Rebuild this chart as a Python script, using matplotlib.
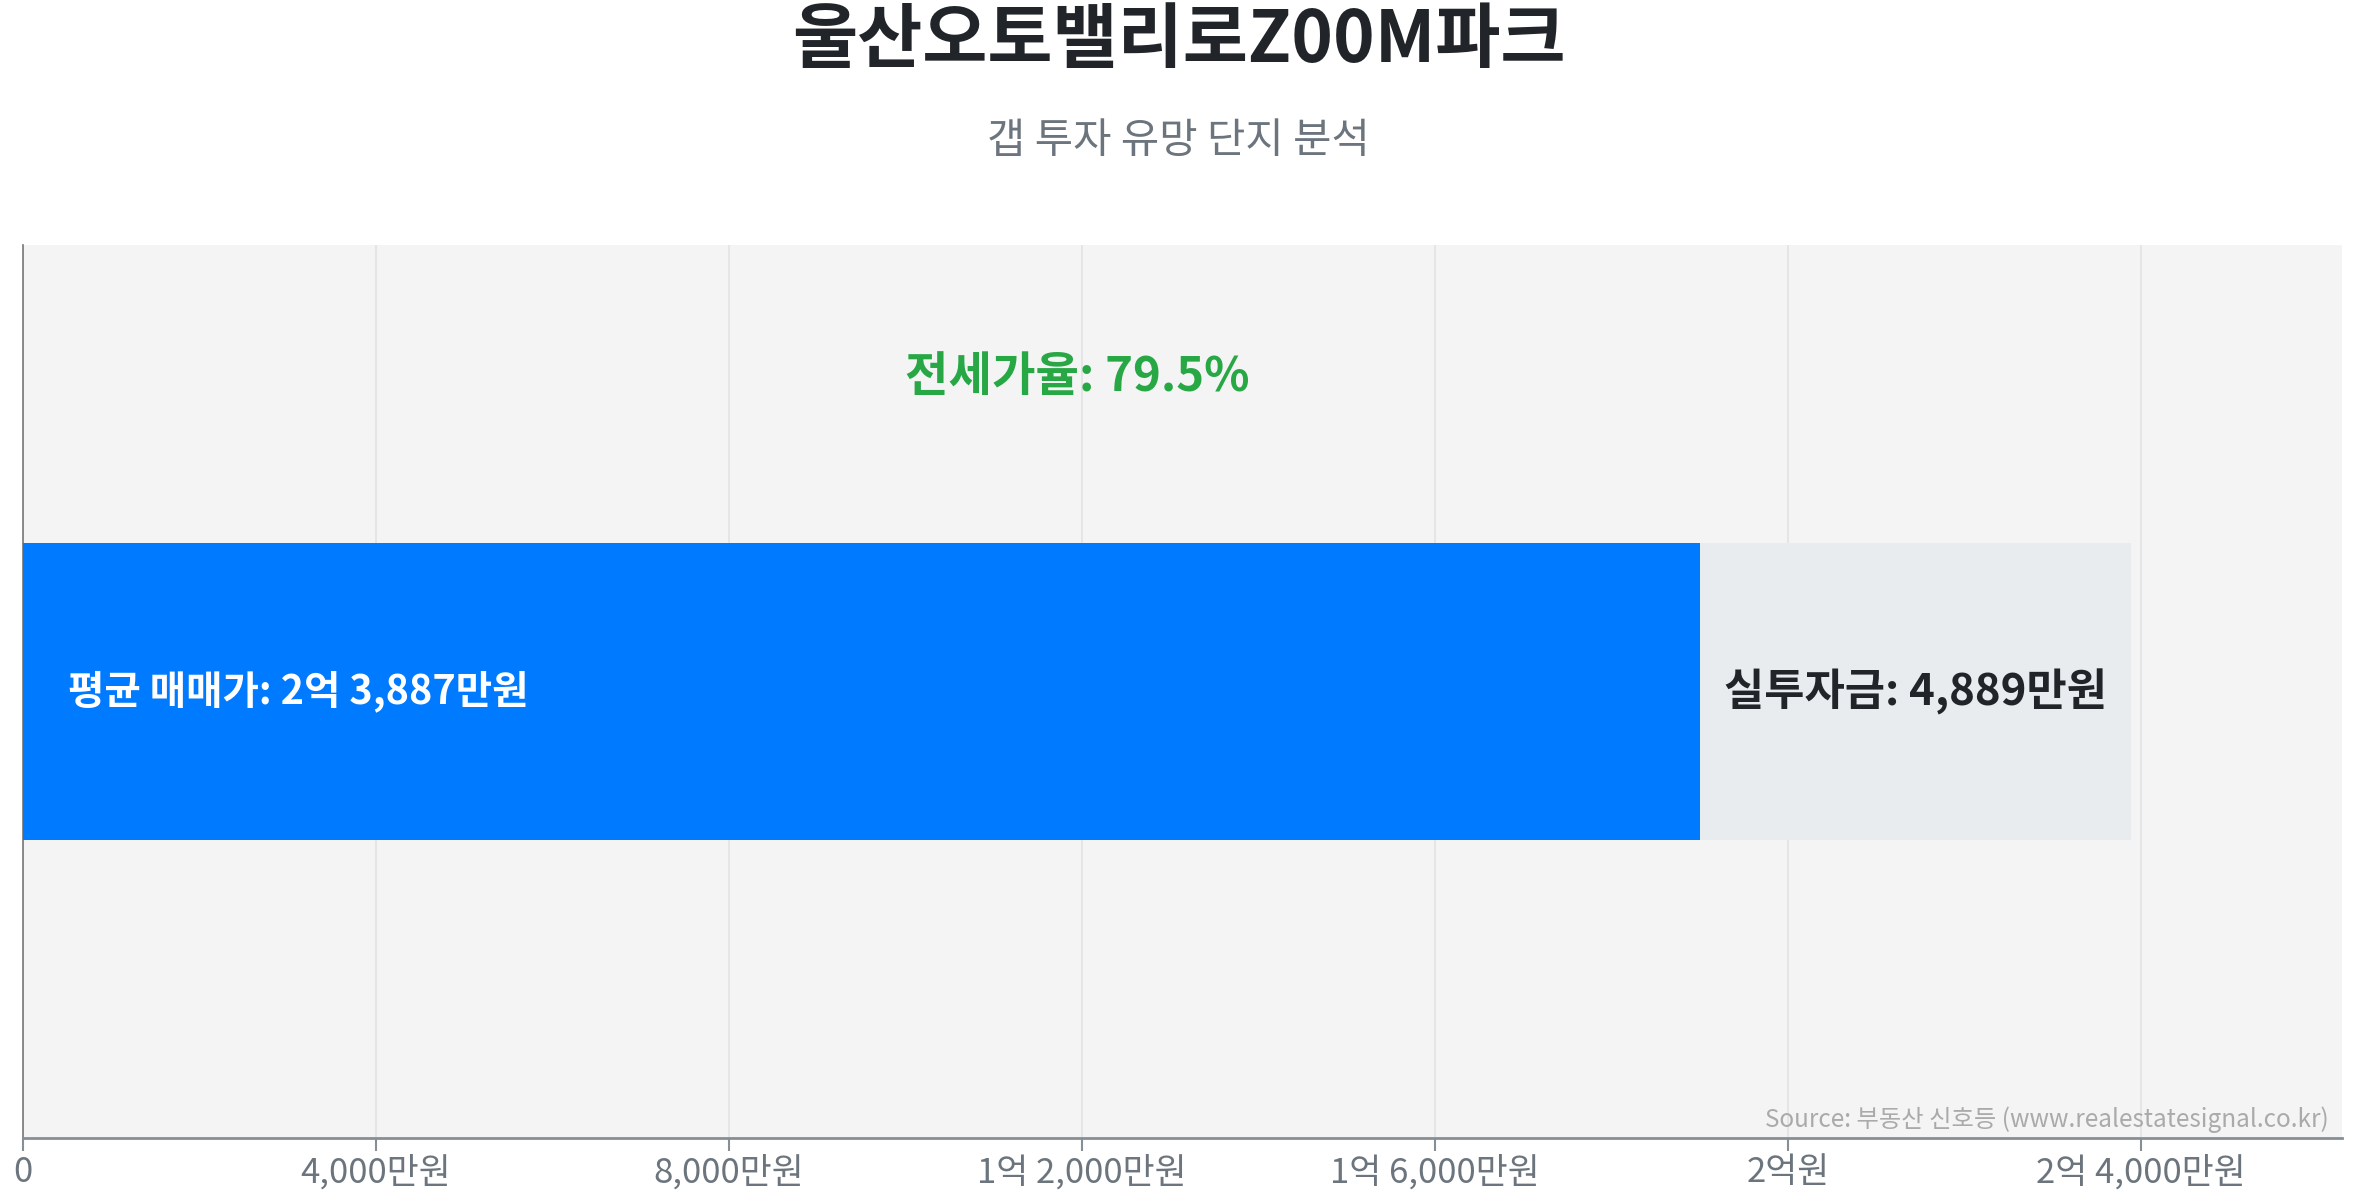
import numpy as np
import matplotlib.pyplot as plt
from matplotlib.ticker import FuncFormatter

plt.rcParams['font.family'] = ['Noto Sans CJK KR', 'DejaVu Sans']

# data (만원)
title = "울산오토밸리로Z00M파크"
subtitle = "갭 투자 유망 단지 분석"
avg_price = 23887
jeonse = 18998
gap = 4889
jeonse_rate = 79.5
ticks = [0, 4000, 8000, 12000, 16000, 20000, 24000]

def won(v, pos=None):
  v = int(round(v))
  if v == 0:
    return "0"
  eok, man = divmod(v, 10000)
  if eok and man:
    return f"{eok}억 {man:,}만원"
  if eok:
    return f"{eok}억원"
  return f"{man:,}만원"

fig = plt.figure(figsize=(23.57, 12), dpi=100)
ax = fig.add_axes([23/2357, 1-1138/1200, (2342-23)/2357, (1138-245)/1200])
ax.set_facecolor('#f4f4f4')

ax.barh([0], [jeonse], height=1, color='#007bff', zorder=3)
ax.barh([0], [gap], left=[jeonse], height=1, color='#e9ecef', zorder=3)

ax.set_xlim(0, avg_price*1.1)
ax.set_ylim(-1.5, 1.5)
ax.set_yticks([])
ax.set_xticks(ticks)
ax.xaxis.set_major_formatter(FuncFormatter(won))
ax.tick_params(axis='x', colors='#868e96', labelcolor='#6c757d', labelsize=25, length=9, width=1.5, pad=3)
ax.grid(axis='x', color='#e2e2e2', linewidth=1.2, zorder=0)

for s in ['top', 'right']:
  ax.spines[s].set_visible(False)
ax.spines['left'].set_color('#777777')
ax.spines['left'].set_linewidth(1.2)
ax.spines['bottom'].set_color('#868e96')
ax.spines['bottom'].set_linewidth(2)

ax.text(avg_price/2, 1.055, f"전세가율: {jeonse_rate}%", color='#28a745', fontsize=34,
        fontweight='bold', ha='center', va='center', zorder=4)
ax.text(avg_price*0.0214, 0, f"평균 매매가: {won(avg_price)}", color='white', fontsize=28.5,
        fontweight='bold', ha='left', va='center', zorder=4)
ax.text(jeonse + gap/2, 0, f"실투자금: {won(gap)}", color='#212529', fontsize=31.5,
        fontweight='bold', ha='center', va='center', zorder=4)
ax.text(0.9945, 0.006, "Source: 부동산 신호등 (www.realestatesignal.co.kr)", transform=ax.transAxes,
        color='#aaaaaa', fontsize=17.5, ha='right', va='bottom', zorder=4)

fig.text(0.5, 0.966, title, color='#212529', fontsize=51, fontweight='bold', ha='center', va='center')
fig.text(0.5, 0.882, subtitle, color='#6c757d', fontsize=30, ha='center', va='center')

fig.savefig('out.png', dpi=100, facecolor='white')
